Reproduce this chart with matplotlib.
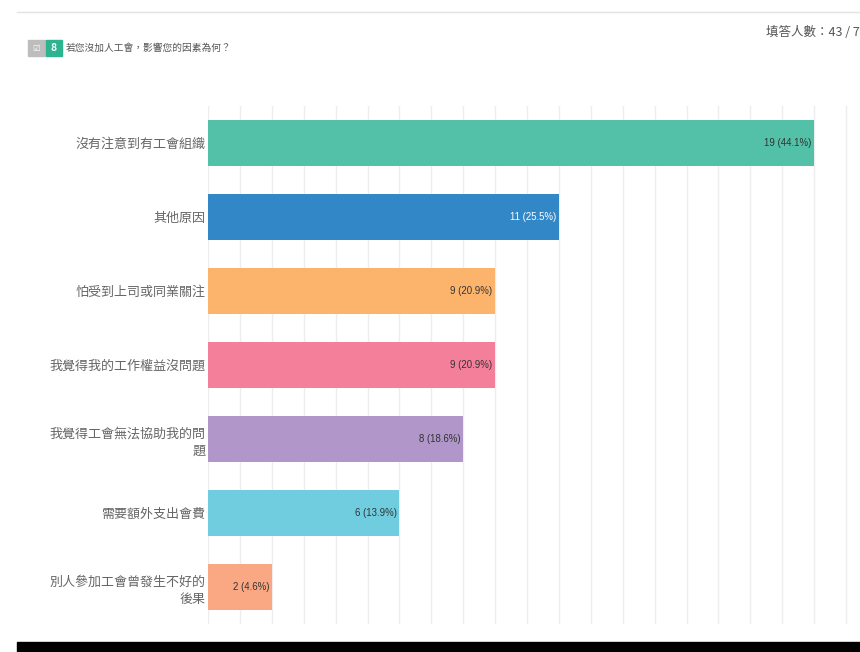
import matplotlib
matplotlib.use("Agg")
import matplotlib.pyplot as plt
from matplotlib.patches import Rectangle
import numpy as np

plt.rcParams['font.family'] = ['Noto Sans CJK TC', 'DejaVu Sans']

# survey answers, top to bottom
labels = ['沒有注意到有工會組織', '其他原因', '怕受到上司或同業關注',
          '我覺得我的工作權益沒問題', '我覺得工會無法協助我的問\n題',
          '需要額外支出會費', '別人參加工會曾發生不好的\n後果']
counts = [19, 11, 9, 9, 8, 6, 2]
pcts = [44.1, 25.5, 20.9, 20.9, 18.6, 13.9, 4.6]
colors = ['#52C1A7', '#3287C7', '#FCB46D', '#F37F9B', '#B096C9', '#6FCDDF', '#F9A883']
text_colors = ['#333333', 'white', '#333333', '#333333', '#333333', '#333333', '#333333']

W, H = 860, 652
fig = plt.figure(figsize=(W / 100, H / 100), dpi=100)

# plot area in pixel coordinates
x0, x1 = 208, 860
y0, y1 = 106, 624
ax = fig.add_axes([x0 / W, 1 - y1 / H, (x1 - x0) / W, (y1 - y0) / H])

ypos = np.arange(len(labels))
ax.barh(ypos, counts, height=0.62, color=colors, zorder=2)
for y, c, p, tc in zip(ypos, counts, pcts, text_colors):
    ax.text(c - 0.08, y, f'{c} ({p}%)', ha='right', va='center',
            fontsize=6.9, color=tc, zorder=3, family=['Liberation Sans', 'DejaVu Sans'])

ax.set_xlim(0, (x1 - x0) / 31.9)
ax.set_ylim(6.5, -0.5)
ax.set_xticks(np.arange(0, 21, 1))
ax.xaxis.grid(True, color='#EDEDED', linewidth=1, zorder=0)
ax.tick_params(axis='x', length=0, labelbottom=False)
ax.tick_params(axis='y', length=0, pad=2)
ax.set_yticks(ypos)
ax.set_yticklabels(labels, fontsize=9.4, color='#666666', linespacing=1.45)
for lbl in ax.get_yticklabels():
    lbl.set_multialignment('right')
for s in ax.spines.values():
    s.set_visible(False)

# page header
fig.add_artist(plt.Line2D([17 / W, 1], [1 - 12 / H] * 2, color='#E3E3E3', linewidth=1))
fig.add_artist(Rectangle((28 / W, 1 - 56 / H), 17 / W, 16 / H, color='#BDBDBD',
                         transform=fig.transFigure))
fig.text(36.5 / W, 1 - 48 / H, '☑', color='white', fontsize=6, ha='center', va='center',
         family=['DejaVu Sans'])
fig.add_artist(Rectangle((46 / W, 1 - 56 / H), 16 / W, 16 / H, color='#2DB38F',
                         transform=fig.transFigure))
fig.text(54 / W, 1 - 48 / H, '8', color='white', fontsize=7.5, ha='center', va='center',
         fontweight='bold')
fig.text(66 / W, 1 - 48 / H, '若您沒加人工會，影響您的因素為何？', color='#555555',
         fontsize=7, ha='left', va='center')
fig.text(766 / W, 1 - 32 / H, '填答人數：43 / 78', color='#555555',
         fontsize=9, ha='left', va='center')

# black strip along the bottom
fig.add_artist(Rectangle((17 / W, 0), 1, 10 / H, color='black', transform=fig.transFigure))

fig.savefig('out.png', dpi=100)
